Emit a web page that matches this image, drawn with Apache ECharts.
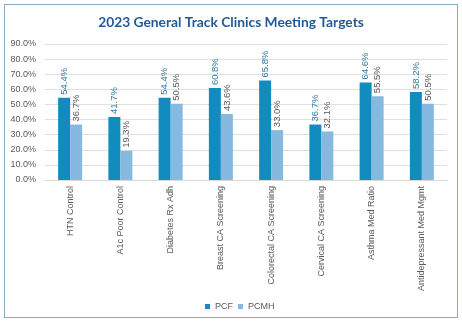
<!DOCTYPE html>
<html><head><meta charset="utf-8">
<script src="https://cdn.jsdelivr.net/npm/echarts@6/dist/echarts.min.js"></script>
<style>
html,body{margin:0;padding:0;background:#fff;}
#wrap{position:absolute;left:4px;top:4px;width:452px;height:312px;border:1px solid #8aaabf;box-sizing:content-box;}
#c{position:absolute;left:0;top:0;width:462px;height:323px;}
</style></head>
<body>
<div id="wrap"></div>
<div id="c"></div>
<script>
var categories = ["HTN Control","A1c Poor Control","Diabetes Rx Adh","Breast CA Screening","Colorectal CA Screening","Cervical CA Screening","Asthma Med Ratio","Antidepressant Med Mgmt"];
var pcf = [54.4, 41.7, 54.4, 60.8, 65.8, 36.7, 64.6, 58.2];
var pcmh = [36.7, 19.3, 50.5, 43.6, 33.0, 32.1, 55.5, 50.5];
var seriesNames = ["PCF","PCMH"];

var chart = echarts.init(document.getElementById('c'));
var fontFam = '"Liberation Sans", Arial, sans-serif';
var BAR_W = 12;

function labelSeries(name, arr, color, side){
  return {
    name: name + ' labels', type:'custom', z:5, clip:false, silent:true,
    encode:{x:0, y:1},
    data: arr.map(function(v, i){ return [i, v]; }),
    renderItem:function(params, api){
      var pt = api.coord([api.value(0), api.value(1)]);
      return {
        type:'group', x: pt[0] + side * BAR_W / 2, y: pt[1] - 3,
        children:[{
          type:'text', rotation: Math.PI / 2, originX:0, originY:0,
          style:{text: api.value(1).toFixed(1) + '%', fill: color,
            fontSize: 9.5, fontFamily: fontFam, align:'left', verticalAlign:'middle'}
        }]
      };
    }
  };
}

chart.setOption({
  animation:false,
  title:{text:'2023 General Track Clinics Meeting Targets', left:'center', top:11,
    textStyle:{color:'#1f5b98', fontSize:13.8, fontWeight:'bold', fontFamily:'Lato, sans-serif'}},
  legend:{data:seriesNames, top:297, left:200, itemWidth:5, itemHeight:5, itemGap:5,
    icon:'rect', textStyle:{color:'#595959', fontSize:9, fontFamily:fontFam}},
  grid:{left:45, right:15, top:44, bottom:143},
  xAxis:{type:'category', data:categories,
    axisLine:{lineStyle:{color:'#d9d9d9'}}, axisTick:{show:false},
    axisLabel:{rotate:90, color:'#595959', fontSize:9, fontFamily:fontFam, margin:6, interval:0}},
  yAxis:{type:'value', min:0, max:90, interval:10,
    axisLine:{show:false}, axisTick:{show:false},
    splitLine:{lineStyle:{color:'#e0e0e0'}},
    axisLabel:{color:'#595959', fontSize:9, fontFamily:fontFam, margin:9,
      formatter:function(v){return v.toFixed(1)+'%';}}},
  series:[
    {name:seriesNames[0], type:'bar', data:pcf, barWidth:BAR_W, barGap:'0%',
      itemStyle:{color:'#128cbf'}},
    {name:seriesNames[1], type:'bar', data:pcmh, barWidth:BAR_W,
      itemStyle:{color:'#86b9e0'}},
    labelSeries(seriesNames[0], pcf, '#2f7aa3', -1),
    labelSeries(seriesNames[1], pcmh, '#595959', 1)
  ]
});
</script>
</body></html>
